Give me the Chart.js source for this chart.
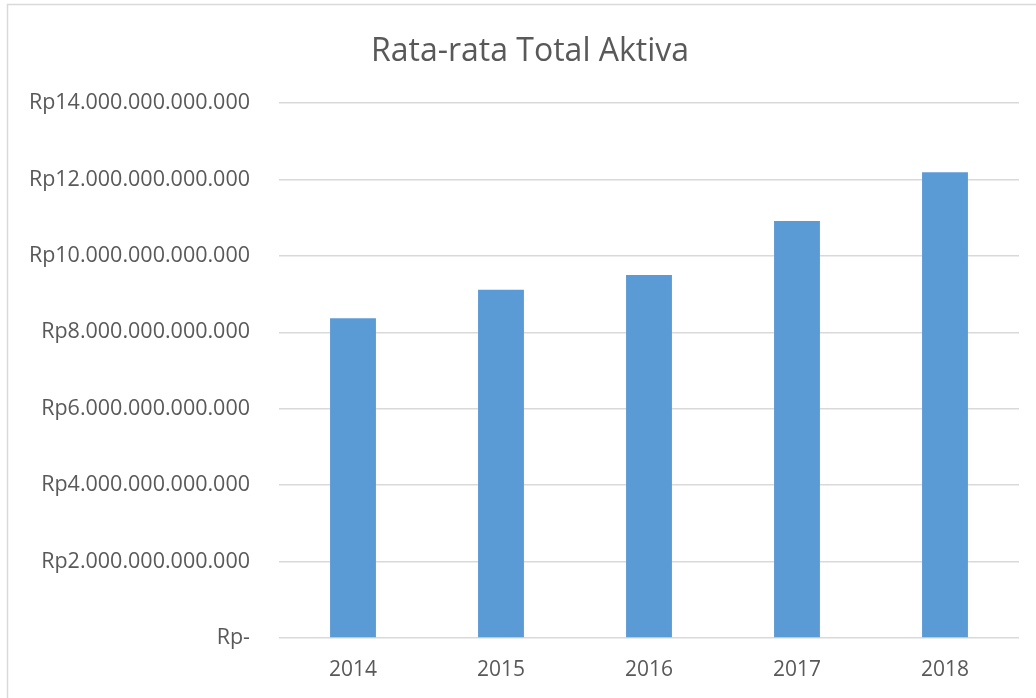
<!DOCTYPE html>
<html>
<head>
<meta charset="utf-8">
<script src="https://cdn.jsdelivr.net/npm/chart.js@4/dist/chart.umd.min.js"></script>
<style>
  html, body { margin: 0; padding: 0; background: #fff; }
  #wrap { position: relative; width: 1036px; height: 698px; }
</style>
</head>
<body>
<div id="wrap"><canvas id="myChart" width="1036" height="698"></canvas></div>
<script>
// yearly averages of total assets (Rupiah)
const years = ['2014', '2015', '2016', '2017', '2018'];
const totalAktiva = [8370000000000, 9110000000000, 9500000000000, 10910000000000, 12190000000000];
const yMax = 14000000000000;
const yStep = 2000000000000;

const barColor = '#5b9bd5';
const textColor = '#595959';
const gridColor = '#d9d9d9';

// Rp12.000.000.000.000 style, zero shown as "Rp-"
function rupiah(v) {
  if (v === 0) return 'Rp-';
  return 'Rp' + String(Math.round(v)).replace(/\B(?=(\d{3})+(?!\d))/g, '.');
}

// light frame around the whole chart
const frame = {
  id: 'frame',
  afterDraw(chart) {
    const ctx = chart.ctx;
    ctx.save();
    ctx.strokeStyle = gridColor;
    ctx.lineWidth = 1.5;
    ctx.strokeRect(7.5, 4.5, chart.width, chart.height);
    ctx.restore();
  }
};

const data = {
  labels: years,
  datasets: [{
    label: 'Rata-rata Total Aktiva',
    data: totalAktiva,
    backgroundColor: barColor,
    borderWidth: 0,
    barPercentage: 0.31,
    categoryPercentage: 1
  }]
};

const config = {
  type: 'bar',
  data: data,
  options: {
    responsive: false,
    animation: false,
    layout: { padding: { left: 41, right: 17, top: 0, bottom: 0 } },
    plugins: {
      legend: { display: false },
      tooltip: { enabled: false },
      title: {
        display: true,
        text: 'Rata-rata Total Aktiva',
        color: textColor,
        font: { family: 'Open Sans', size: 32, weight: 'normal' },
        padding: { top: 33, bottom: 31.6 }
      }
    },
    scales: {
      x: {
        grid: { display: false },
        border: { display: false },
        ticks: { color: textColor, font: { family: 'Open Sans', size: 21 }, padding: 11 },
        afterFit(scale) { scale.height = 60; }
      },
      y: {
        min: 0,
        max: yMax,
        ticks: {
          stepSize: yStep,
          color: textColor,
          font: { family: 'Open Sans', size: 21.5 },
          padding: 29,
          callback: (v) => rupiah(v)
        },
        grid: { color: gridColor, lineWidth: 1.5, drawTicks: false },
        border: { display: false },
        afterFit(scale) {
          scale.width = 238;
          // long labels run into the left padding, so don't clip them to the axis box
          scale._computeLabelArea = () => undefined;
        }
      }
    }
  },
  plugins: [frame]
};

const myChart = new Chart(document.getElementById('myChart'), config);
</script>
</body>
</html>
